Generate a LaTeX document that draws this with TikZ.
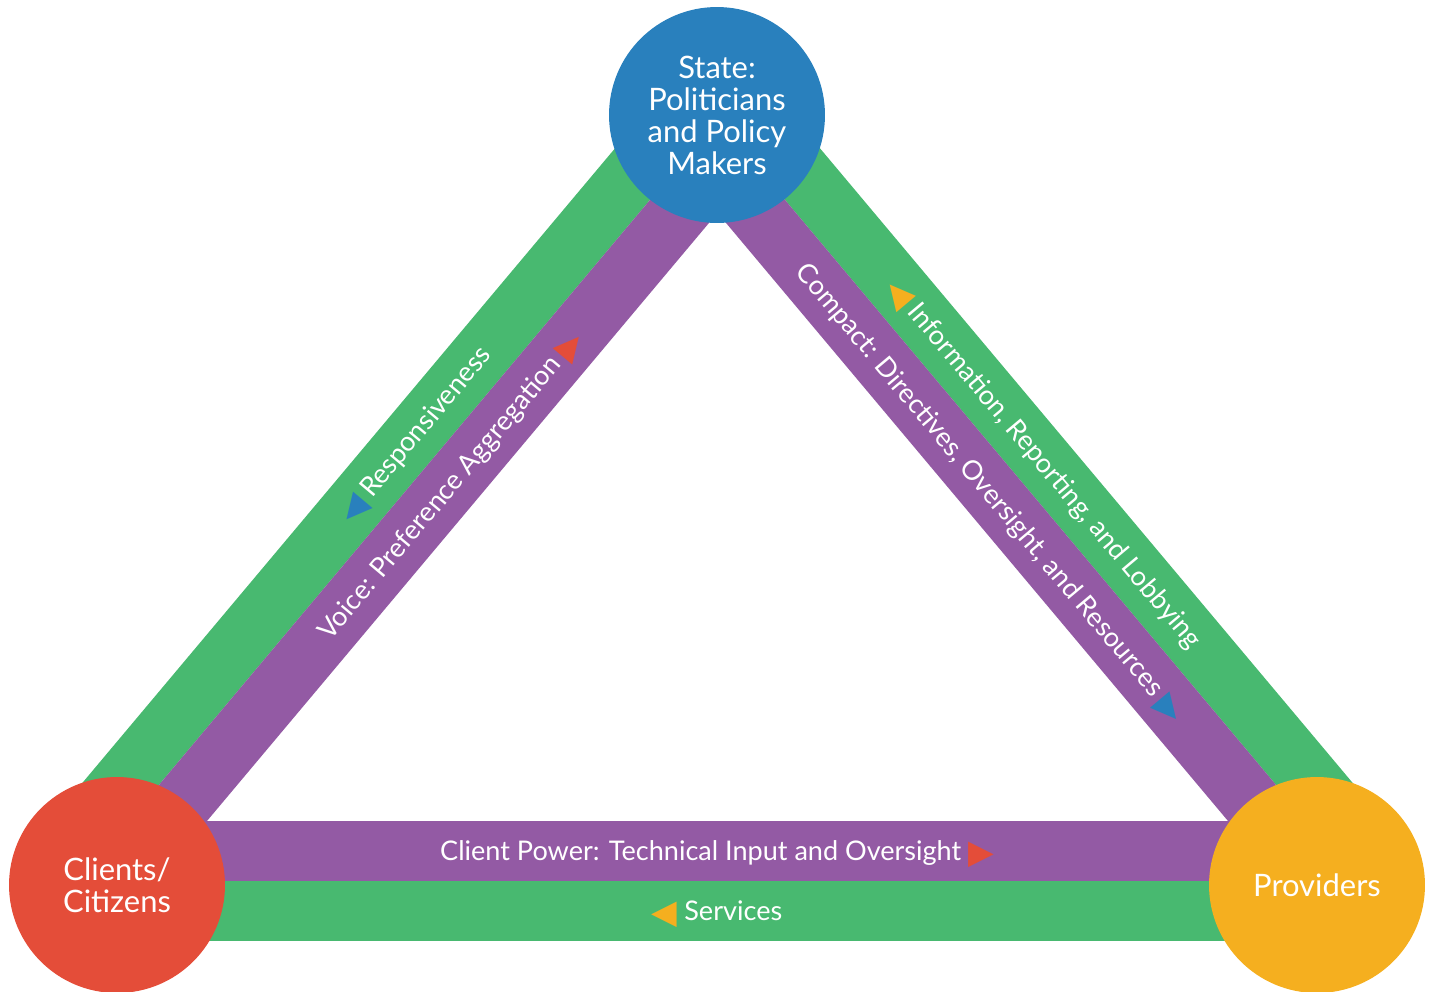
\documentclass[tikz,border=0pt]{standalone}
\usepackage{fontspec}
\setmainfont{Lato}
\newfontfamily\symfont{DejaVu Sans}
\usetikzlibrary{backgrounds}

\definecolor{bandgreen}{RGB}{72,185,112}
\definecolor{bandpurple}{RGB}{147,90,164}
\definecolor{stateblue}{RGB}{41,128,189}
\definecolor{clientred}{RGB}{228,77,57}
\definecolor{provorange}{RGB}{245,175,31}

\newcommand{\tril}[1]{\raisebox{-0.12em}{\symfont\fontsize{19}{19}\selectfont\textcolor{#1}{◀}}}
\newcommand{\trir}[1]{\raisebox{-0.12em}{\symfont\fontsize{19}{19}\selectfont\textcolor{#1}{▶}}}

\begin{document}
\begin{tikzpicture}[x=0.02cm, y=-0.02cm,
    actor/.style={circle, inner sep=0pt, minimum size=4.32cm, text=white, align=center,
                  font=\fontsize{17.6}{18.2}\selectfont},
    band/.style={line width=1.2cm},
    flow/.style={text=white, inner sep=0pt, sloped, text height=1.06em, text depth=0pt,
                 font=\fontsize{15.4}{15.4}\selectfont}]
                \useasboundingbox (0,0) rectangle (1430,991);
                \node[actor, fill=stateblue] (st) at (717,115) {State:\\Politicians\\and Policy\\Makers};
                \node[actor, fill=clientred] (cli) at (117,885) {Clients/\\Citizens};
                \node[actor, fill=provorange] (prov) at (1317,885) {Providers};
                \begin{scope}[on background layer]
                    % short route
                    \draw[band, bandgreen] ([shift={(-47.7,-39.9)}]cli.center) --
                        node[flow, pos=0.55] {\tril{stateblue} Responsiveness} ([shift={(-20.1,-17.6)}]st.center);
                    \draw[band, bandpurple] ([shift={(-1.8,-1.3)}]cli.center) --
                        node[flow, pos=0.533] {Voice: Preference Aggregation \trir{clientred}} ([shift={(25.8,21)}]st.center);
                    \draw[band, bandgreen] ([shift={(21.1,-17.6)}]st.center) --
                        node[flow, pos=0.489] {\tril{provorange} Information, Reporting, and Lobbying} ([shift={(48.7,-39.9)}]prov.center);
                    \draw[band, bandpurple] ([shift={(-24.8,21)}]st.center) --
                        node[flow, pos=0.476] {Compact: Directives, Oversight, and Resources \trir{stateblue}} ([shift={(2.8,-1.3)}]prov.center);
                    % long route
                    \draw[band, bandpurple] ([yshift=0.68cm]cli.center) --
                        node[flow] {Client Power: Technical Input and Oversight \trir{clientred}} ([yshift=0.68cm]prov.center);
                    \draw[band, bandgreen] ([yshift=-0.52cm]cli.center) --
                        node[flow] {\tril{provorange} Services} ([yshift=-0.52cm]prov.center);
                \end{scope}
            \end{tikzpicture}
\end{document}
